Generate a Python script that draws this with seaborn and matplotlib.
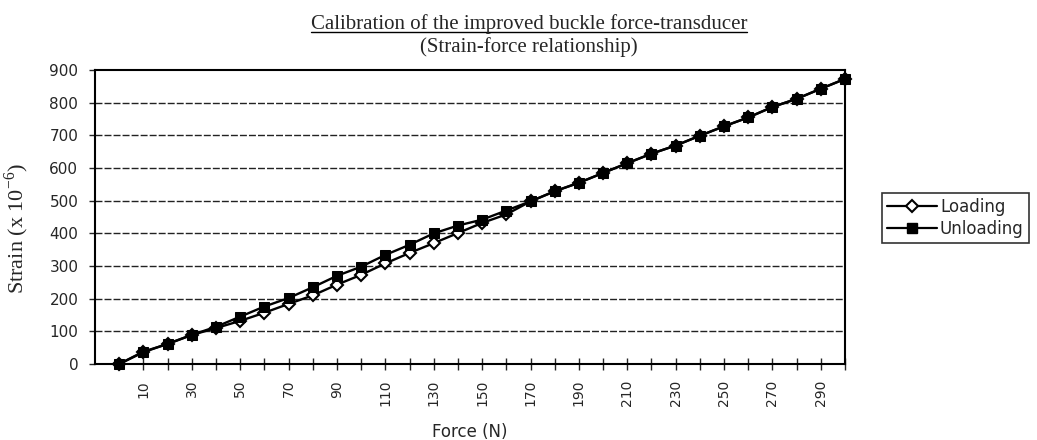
"""Calibration of the improved buckle force-transducer:
strain against force for loading and unloading."""

import numpy as np
import pandas as pd
import seaborn as sns
import matplotlib.pyplot as plt
from matplotlib.lines import Line2D

# Force steps (N) and measured strain (x 10^-6)
force = list(range(0, 310, 10))
loading = [0, 36, 62, 89, 110, 132, 157, 184, 210, 243, 273, 308, 340, 370, 401,
           432, 458, 498, 529, 555, 585, 615, 644, 669, 699, 728, 755, 787, 812, 843, 873]
unloading = [0, 38, 61, 89, 114, 145, 176, 202, 235, 270, 298, 334, 365, 400, 424,
             442, 470, 498, 529, 555, 585, 615, 644, 669, 699, 728, 755, 787, 812, 843, 873]
tick_labels = [str(f) if f % 20 == 10 else '' for f in force]

df = pd.DataFrame({'Force': force, 'Loading': loading, 'Unloading': unloading})

sns.set_style('white')
plt.rcParams['font.family'] = ['DejaVu Sans']
plt.rcParams['mathtext.fontset'] = 'custom'
plt.rcParams['mathtext.rm'] = 'Liberation Serif'

fig = plt.figure(figsize=(10.37, 4.4), dpi=100)
ax = fig.add_axes([0.0916, 0.1727, 0.7233, 0.668])

sns.lineplot(data=df, x='Force', y='Loading', ax=ax, color='black', lw=1.7,
             marker='D', markersize=6.5, markerfacecolor='white', markeredgecolor='black',
             markeredgewidth=1.5, clip_on=False, zorder=3)
sns.lineplot(data=df, x='Force', y='Unloading', ax=ax, color='black', lw=1.7,
             marker='s', markersize=7.5, markerfacecolor='black', markeredgecolor='black',
             clip_on=False, zorder=4)

ax.set_xlim(-10, 300)
ax.set_ylim(0, 900)
ax.set_yticks(range(0, 1000, 100))
ax.set_xticks(force)
ax.set_xticklabels(tick_labels, rotation=90, fontsize=10)
ax.tick_params(axis='y', labelsize=11, direction='out', length=4, width=1, left=True, pad=8)
ax.tick_params(axis='x', direction='inout', length=9, width=1, bottom=True, pad=7)

for y in range(100, 900, 100):
    ax.axhline(y, color='#222222', lw=1, ls=(0, (5, 1.5)), zorder=1)

for s in ax.spines.values():
    s.set_visible(True)
    s.set_color('black')
    s.set_linewidth(1.5)

ax.set_xlabel('Force (N)', fontsize=12, labelpad=12)
ax.set_ylabel('Strain (x 10$^{\\mathregular{-6}}$)', fontsize=16,
              family='Liberation Serif')
ax.yaxis.set_label_coords(-0.085, 0.46)

# title, underlined first line
t1 = fig.text(0.51, 0.946, 'Calibration of the improved buckle force-transducer',
              ha='center', va='center', fontsize=15, family='Liberation Serif')
fig.text(0.51, 0.893, '(Strain-force relationship)', ha='center', va='center',
         fontsize=15, family='Liberation Serif')
fig.canvas.draw()
bb = t1.get_window_extent().transformed(fig.transFigure.inverted())
fig.add_artist(Line2D([bb.x0, bb.x1], [bb.y0 + 0.004, bb.y0 + 0.004],
                      color='black', lw=1, transform=fig.transFigure))

handles = [Line2D([], [], color='black', lw=1.6, marker='D', markersize=6,
                  markerfacecolor='white', markeredgewidth=1.5),
           Line2D([], [], color='black', lw=1.6, marker='s', markersize=7,
                  markerfacecolor='black')]
leg = fig.legend(handles, ['Loading', 'Unloading'], loc='center left',
                 bbox_to_anchor=(0.851, 0.505), fontsize=12, frameon=True,
                 fancybox=False, handlelength=3.0, borderpad=0.3, labelspacing=0.25,
                 handletextpad=0.15, borderaxespad=0)
leg.get_frame().set_edgecolor('black')
leg.get_frame().set_linewidth(1.2)

fig.savefig('out.png', dpi=100)
